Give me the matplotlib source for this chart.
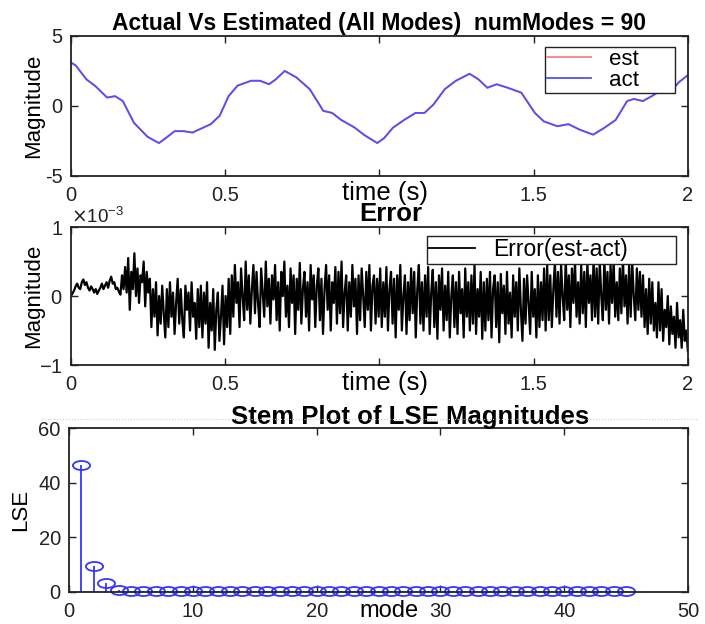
import numpy as np
import matplotlib
matplotlib.use("Agg")
import matplotlib.pyplot as plt
from matplotlib.ticker import FuncFormatter, ScalarFormatter
from matplotlib.markers import MarkerStyle
from matplotlib.transforms import Affine2D
from matplotlib.lines import Line2D

plt.rcParams['font.family'] = ['Liberation Sans', 'DejaVu Sans']

# actual signal
t_act = [0.0, 0.015, 0.05, 0.08, 0.117, 0.143, 0.168, 0.204, 0.248, 0.285, 0.307, 0.336, 0.365,
         0.394, 0.453, 0.482, 0.511, 0.540, 0.584, 0.613, 0.642, 0.664, 0.693, 0.730, 0.774,
         0.818, 0.847, 0.876, 0.920, 0.949, 0.993, 1.015, 1.044, 1.080, 1.117, 1.146, 1.175,
         1.212, 1.248, 1.292, 1.321, 1.350, 1.380, 1.416, 1.460, 1.504, 1.533, 1.577, 1.613,
         1.650, 1.693, 1.730, 1.766, 1.803, 1.825, 1.854, 1.883, 1.912, 1.942, 1.971, 2.0]
act = [3.1, 2.9, 1.9, 1.4, 0.6, 0.7, 0.35, -1.2, -2.2, -2.65, -2.3, -1.8, -1.8,
       -1.9, -1.3, -0.7, 0.7, 1.45, 1.8, 1.8, 1.55, 1.9, 2.5, 2.05, 1.2,
       -0.35, -0.5, -1.0, -1.55, -2.05, -2.65, -2.3, -1.55, -1.0, -0.5, -0.5, 0.1,
       1.2, 1.8, 2.3, 1.9, 1.3, 1.55, 1.3, 0.95, -0.5, -1.1, -1.45, -1.3,
       -1.7, -2.05, -1.55, -1.0, 0.35, 0.5, 0.35, 0.7, 1.1, 0.95, 1.7, 2.2]
est = act

# error (units of 1e-3), sampled evenly over 0..2 s
err_e3 = [
    # 0 - 0.16 s
    0.0, 0.04, 0.08, 0.14, 0.18, 0.12, 0.1, 0.2, 0.24, 0.16, 0.2, 0.12, 0.08, 0.14, 0.1, 0.05,
    0.1, 0.03, 0.08, 0.12, 0.18, 0.1, 0.15, 0.2, 0.12, 0.22, 0.28, 0.18, 0.2, 0.1, 0.12, 0.06,
    # 0.16 - 0.26
    0.02, 0.3, 0.1, 0.42, 0.05, 0.55, -0.2, 0.35, 0.1, 0.62, 0.0, 0.4, -0.1, 0.3, 0.2, 0.5, -0.15, 0.35, 0.05, 0.25,
    # 0.26 - 0.42
    -0.45, 0.1, -0.3, 0.2, -0.57, 0.0, -0.4, 0.15, -0.25, -0.6, 0.1, -0.45, 0.2, -0.3, 0.05, -0.55,
    -0.1, 0.25, -0.4, 0.1, -0.35, -0.6, 0.15, -0.2, 0.05, -0.5, 0.2, -0.3, -0.1, -0.62, 0.1, -0.45,
    # 0.42 - 0.52
    0.15, -0.6, 0.05, -0.4, 0.2, -0.75, -0.1, -0.5, 0.1, -0.78, -0.2, 0.05, -0.65, -0.3, 0.15, -0.7, 0.0, -0.45, 0.25, -0.55,
    # 0.52 - 0.66
    0.3, -0.3, 0.45, -0.1, 0.2, -0.45, 0.4, 0.0, -0.35, 0.5, -0.2, 0.3, -0.4, 0.1,
    0.45, -0.25, 0.35, -0.1, -0.45, 0.4, 0.05, -0.3, 0.5, -0.15, 0.25, -0.4, 0.3, -0.05,
    # 0.66 - 1.0
    0.45, -0.35, 0.2, -0.5, 0.35, 0.0, 0.5, -0.3, 0.15, -0.45,
    0.4, -0.1, 0.3, -0.55, 0.25, -0.2, 0.48, -0.4, 0.1, 0.35,
    -0.3, 0.2, -0.5, 0.45, -0.05, 0.3, -0.45, 0.15, 0.4, -0.35,
    0.25, -0.55, 0.1, 0.45, -0.2, 0.3, -0.5, 0.2, -0.1, 0.42,
    -0.4, 0.35, -0.25, 0.5, -0.45, 0.05, 0.3, -0.5, 0.2, -0.3,
    0.45, -0.15, 0.25, -0.55, 0.3, -0.35, 0.4, 0.0, -0.45, 0.35,
    -0.2, 0.45, -0.5, 0.15, 0.3, -0.4, 0.25, -0.3,
    # 1.0 - 1.34
    0.4, -0.45, 0.2, -0.3, 0.42, -0.5, 0.1, 0.35, -0.4, 0.25,
    -0.6, 0.3, -0.2, 0.45, -0.5, 0.0, 0.3, -0.55, 0.2, -0.35,
    0.4, -0.25, 0.35, -0.6, 0.1, 0.45, -0.4, 0.2, -0.5, 0.3,
    -0.3, 0.42, -0.55, 0.05, 0.38, -0.45, 0.2, -0.62, 0.3, -0.2,
    0.4, -0.5, 0.15, -0.35, 0.35, -0.6, 0.0, 0.3, -0.45, 0.2,
    -0.55, 0.35, -0.25, 0.1, -0.6, 0.4, -0.3, 0.2, -0.5, 0.3,
    -0.4, 0.45, -0.55, 0.1, -0.3, 0.35, -0.62, 0.2,
    # 1.34 - 1.54
    -0.5, 0.25, -0.35, 0.35, -0.6, 0.1, 0.3, -0.45, 0.2, -0.67,
    0.32, -0.25, 0.15, -0.55, 0.35, -0.4, 0.05, -0.6, 0.3, -0.3,
    0.2, -0.5, 0.4, -0.2, -0.65, 0.25, -0.4, 0.3, -0.1, -0.55,
    0.35, -0.3, 0.1, -0.6, 0.3, -0.45, 0.2, -0.35, 0.4, -0.5,
    # 1.54 - 1.69
    0.45, -0.35, 0.3, -0.45, 0.1, 0.5, -0.3, 0.35, -0.4, 0.45,
    0.0, -0.35, 0.55, -0.2, 0.3, -0.45, 0.4, -0.1, 0.5, -0.3,
    0.2, -0.4, 0.45, -0.25, 0.35, -0.45, 0.5, -0.1, 0.3, -0.35,
    # 1.69 - 1.85
    0.55, -0.3, 0.4, -0.4, 0.5, 0.0, -0.35, 0.55, -0.2, 0.35,
    -0.4, 0.45, -0.1, 0.5, -0.3, 0.2, -0.35, 0.4, -0.25, 0.55,
    -0.15, 0.3, -0.4, 0.45, -0.3, 0.5, 0.0, -0.35, 0.4, -0.2,
    0.35, -0.3,
    # 1.85 - 2.0
    0.3, -0.45, 0.1, -0.55, 0.25, -0.4, 0.2, -0.5, -0.1, -0.6,
    0.2, -0.5, 0.1, -0.65, -0.2, -0.45, 0.0, -0.7, -0.15, -0.55,
    -0.3, -0.75, -0.1, -0.6, -0.35, -0.75, -0.2, -0.65, -0.5, -0.8,
]
err = np.array(err_e3) * 1e-3
t_err = np.linspace(0, 2, len(err))

# LSE per mode
modes = list(range(1, 46))
lse = [46.5, 9.6, 3.3, 0.7] + [0.4] * 41

time_ticks = [0, 0.5, 1, 1.5, 2]
time_labels = ['0', '0.5', '', '1.5', '2']   # "1" sits under the "time (s)" label

fig = plt.figure(figsize=(7.05, 6.24), dpi=100)
ax1 = fig.add_axes([0.1007, 0.718, 0.875, 0.2244])
ax2 = fig.add_axes([0.1007, 0.415, 0.875, 0.2212])
ax3 = fig.add_axes([0.098, 0.0513, 0.878, 0.2628])

fmt = FuncFormatter(lambda v, p: '%g' % v)

def style(ax):
    for s in ax.spines.values():
        s.set_color('#222222')
        s.set_linewidth(1.3)
    ax.tick_params(direction='in', top=True, right=True, length=5, width=1,
                   labelsize=14.5, colors='#222222')
    ax.tick_params(axis='x', pad=7)
    ax.tick_params(axis='y', pad=6)

def box_legend(ax, x0, ytop, w, fs):
    return ax.legend(loc='upper left', bbox_to_anchor=(x0, ytop, w, 0), mode='expand',
                     borderaxespad=0, fontsize=fs, fancybox=False, edgecolor='#222222',
                     framealpha=1, handlelength=2.0, handletextpad=0.8, borderpad=0.1,
                     labelspacing=0.0)

# top
ax1.plot(t_act, est, color='#ff8080', lw=1.3, label='est')
ax1.plot(t_act, act, color='#5050ff', lw=1.3, label='act')
ax1.set_xlim(0, 2)
ax1.set_ylim(-5, 5)
ax1.set_xticks(time_ticks, time_labels)
ax1.set_yticks([-5, 0, 5])
ax1.yaxis.set_major_formatter(fmt)
style(ax1)
ax1.set_title('Actual Vs Estimated (All Modes)  numModes = 90', fontsize=16.5,
              fontweight='bold', pad=4)
ax1.set_xlabel('time (s)', fontsize=18.5)
ax1.xaxis.set_label_coords(0.509, -0.12)
ax1.xaxis.label.set_va('center')
ax1.set_ylabel('Magnitude', fontsize=16)
ax1.yaxis.set_label_coords(-0.044, 0.5)
box_legend(ax1, 0.768, 0.921, 0.2107, 16)

# middle
ax2.plot(t_err, err, color='black', lw=1.6, label='Error(est-act)')
ax2.set_xlim(0, 2)
ax2.set_ylim(-1e-3, 1e-3)
ax2.set_xticks(time_ticks, time_labels)
ax2.set_yticks([-1e-3, 0, 1e-3])
sf = ScalarFormatter(useMathText=True)
sf.set_powerlimits((0, 0))
ax2.yaxis.set_major_formatter(sf)
style(ax2)
ax2.yaxis.get_offset_text().set_fontsize(13.5)
ax2.set_title('Error', fontsize=18.5, fontweight='bold', pad=4, x=0.519)
ax2.set_xlabel('time (s)', fontsize=18.5)
ax2.xaxis.set_label_coords(0.509, -0.13)
ax2.xaxis.label.set_va('center')
ax2.set_ylabel('Magnitude', fontsize=16)
ax2.yaxis.set_label_coords(-0.044, 0.5)
leg2 = box_legend(ax2, 0.577, 0.935, 0.4036, 16.5)
leg2.get_lines()[0].set_linewidth(1.3)

# bottom
ell = MarkerStyle('o', fillstyle='none', transform=Affine2D().scale(1.9, 1.0))
ml, sl, bl = ax3.stem(modes, lse, linefmt='-', markerfmt='o', basefmt=' ')
plt.setp(sl, color='#3535ff', linewidth=1.3)
ml.set_marker(ell)
ml.set_markersize(6.5)
ml.set_markeredgecolor('#3535ff')
ml.set_markerfacecolor('none')
ml.set_markeredgewidth(1.3)
ml.set_clip_on(False)
ax3.set_xlim(0, 50)
ax3.set_ylim(0, 60)
ax3.set_xticks([0, 10, 20, 30, 40, 50])
ax3.set_yticks([0, 20, 40, 60])
style(ax3)
ax3.set_title('Stem Plot of LSE Magnitudes', fontsize=18.5, fontweight='bold', pad=3, x=0.551)
ax3.set_xlabel('mode', fontsize=17)
ax3.xaxis.set_label_coords(0.517, -0.116)
ax3.xaxis.label.set_va('center')
ax3.set_ylabel('LSE', fontsize=16)
ax3.yaxis.set_label_coords(-0.062, 0.5)

fig.add_artist(Line2D([0.06, 0.99], [1 - 419 / 624] * 2, ls=':', lw=0.8, color='#cccccc'))

fig.savefig('out.png', dpi=100)
